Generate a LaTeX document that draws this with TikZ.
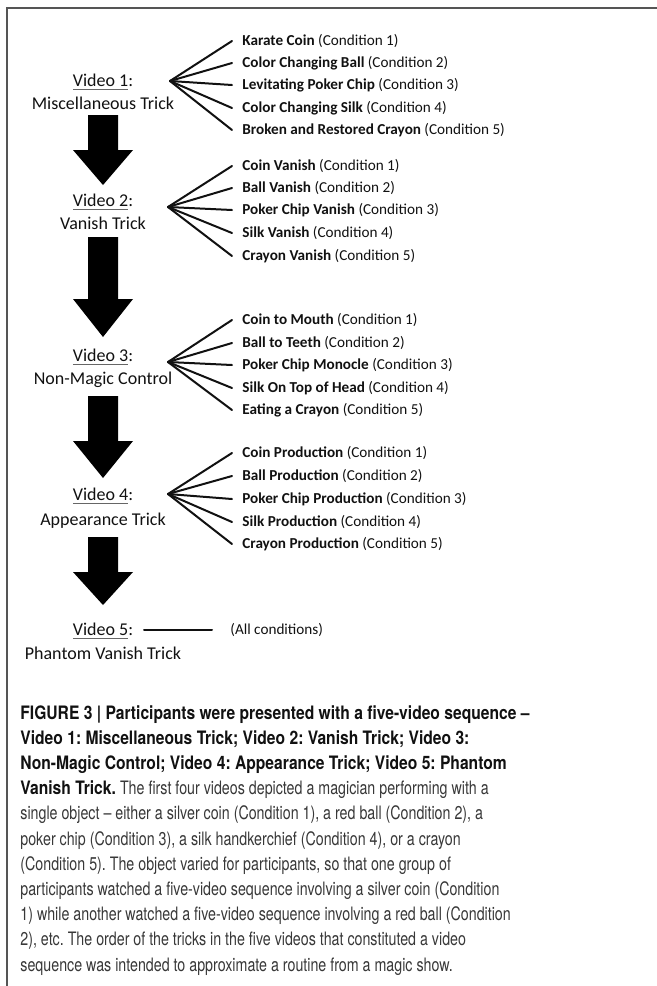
\documentclass[tikz,border=0pt]{standalone}
\usepackage{fontspec}
\setmainfont{Carlito}
\newfontfamily\capfont{TeX Gyre Heros}[FakeStretch=0.77,BoldFeatures={FakeStretch=0.845}]
\definecolor{ink}{HTML}{111111}
\definecolor{capgray}{HTML}{383838}
\definecolor{rulegray}{HTML}{555555}
\definecolor{ulgray}{HTML}{666666}
\newcommand{\vid}[1]{{\color{ulgray}\underline{\color{ink}#1}}}
\begin{document}
\begin{tikzpicture}[x=0.5pt,y=-0.5pt,
  vlabel/.style={anchor=base,inner sep=0pt,text=ink,font=\fontsize{9}{10}\selectfont},
  clabel/.style={anchor=west,inner sep=0pt,text=ink,font=\fontsize{7.6}{9}\selectfont},
  fan/.style={line width=1pt,draw=ink,line cap=round},
  blockarrow/.style={fill=black},
  caption/.style={anchor=base west,inner sep=0pt,font=\capfont\fontsize{9.25}{12.6}\selectfont,text=capgray}]
\useasboundingbox (0,0) rectangle (657,986);

% frame
\draw[rulegray,line width=0.7pt] (7,986) -- (7,8) -- (657,8);

% left column: the five videos
\node[vlabel] (v1) at (103,86) {\vid{Video 1}:};
\node[vlabel] (t1) at (103,109) {Miscellaneous Trick};
\node[vlabel] (v2) at (103,206) {\vid{Video 2}:};
\node[vlabel] (t2) at (103,229) {Vanish Trick};
\node[vlabel] (v3) at (103,361) {\vid{Video 3}:};
\node[vlabel] (t3) at (103,384) {Non-Magic Control};
\node[vlabel] (v4) at (103,500) {\vid{Video 4}:};
\node[vlabel] (t4) at (103,525) {Appearance Trick};
\node[vlabel] (v5) at (103,635) {\vid{Video 5}:};
\node[vlabel] (t5) at (103,659) {Phantom Vanish Trick};

% block arrows between the videos
\newcommand{\blockdown}[3]{%
  \fill[blockarrow] (88,#1) -- (118,#1) -- (118,#2) -- (133,#2) -- (103,#3)
    -- (73,#2) -- (88,#2) -- cycle;}
\blockdown{115}{150}{185}
\blockdown{237}{299}{337}
\blockdown{396}{441}{478}
\blockdown{537}{572}{605}

% fan origins
\coordinate (o1) at (170,81);
\coordinate (o2) at (168,207);
\coordinate (o3) at (168,362);
\coordinate (o4) at (168,494);

% video 1 variants
\node[clabel] (a1) at (242,41)  {\textbf{Karate Coin} (Condition 1)};
\node[clabel] (a2) at (242,63)  {\textbf{Color Changing Ball} (Condition 2)};
\node[clabel] (a3) at (242,85)  {\textbf{Levitating Poker Chip} (Condition 3)};
\node[clabel] (a4) at (242,108) {\textbf{Color Changing Silk} (Condition 4)};
\node[clabel] (a5) at (242,130) {\textbf{Broken and Restored Crayon} (Condition 5)};
% video 2 variants
\node[clabel] (b1) at (242,166) {\textbf{Coin Vanish} (Condition 1)};
\node[clabel] (b2) at (242,188) {\textbf{Ball Vanish} (Condition 2)};
\node[clabel] (b3) at (242,210) {\textbf{Poker Chip Vanish} (Condition 3)};
\node[clabel] (b4) at (242,233) {\textbf{Silk Vanish} (Condition 4)};
\node[clabel] (b5) at (242,256) {\textbf{Crayon Vanish} (Condition 5)};
% video 3 variants
\node[clabel] (c1) at (242,320) {\textbf{Coin to Mouth} (Condition 1)};
\node[clabel] (c2) at (242,343) {\textbf{Ball to Teeth} (Condition 2)};
\node[clabel] (c3) at (242,365) {\textbf{Poker Chip Monocle} (Condition 3)};
\node[clabel] (c4) at (242,388) {\textbf{Silk On Top of Head} (Condition 4)};
\node[clabel] (c5) at (242,410) {\textbf{Eating a Crayon} (Condition 5)};
% video 4 variants
\node[clabel] (d1) at (242,453) {\textbf{Coin Production} (Condition 1)};
\node[clabel] (d2) at (242,476) {\textbf{Ball Production} (Condition 2)};
\node[clabel] (d3) at (242,499) {\textbf{Poker Chip Production} (Condition 3)};
\node[clabel] (d4) at (242,522) {\textbf{Silk Production} (Condition 4)};
\node[clabel] (d5) at (242,544) {\textbf{Crayon Production} (Condition 5)};

\foreach \g/\o in {a/o1,b/o2,c/o3,d/o4}
  \foreach \i in {1,...,5}
    \draw[fan] (\o) -- ([xshift=-5]\g\i.west);

% video 5
\coordinate (e0) at (144,630);
\node[clabel] (e1) at (230,630) {(All conditions)};
\draw[fan] (e0) -- ([xshift=-9]e1.west);

% caption
\node[caption] (cap) at (20,719) {\frenchspacing
  \begin{tabular}[t]{@{}l@{}}
  \textbf{\color{ink}FIGURE 3 | Participants were presented with a five-video sequence –}\\
  \textbf{\color{ink}Video 1: Miscellaneous Trick; Video 2: Vanish Trick; Video 3:}\\
  \textbf{\color{ink}Non-Magic Control; Video 4: Appearance Trick; Video 5: Phantom}\\
  \textbf{\color{ink}Vanish Trick.} The first four videos depicted a magician performing with a\\
  single object – either a silver coin (Condition 1), a red ball (Condition 2), a\\
  poker chip (Condition 3), a silk handkerchief (Condition 4), or a crayon\\
  (Condition 5). The object varied for participants, so that one group of\\
  participants watched a five-video sequence involving a silver coin (Condition\\
  1) while another watched a five-video sequence involving a red ball (Condition\\
  2), etc. The order of the tricks in the five videos that constituted a video\\
  sequence was intended to approximate a routine from a magic show.
  \end{tabular}};
\end{tikzpicture}
\end{document}
